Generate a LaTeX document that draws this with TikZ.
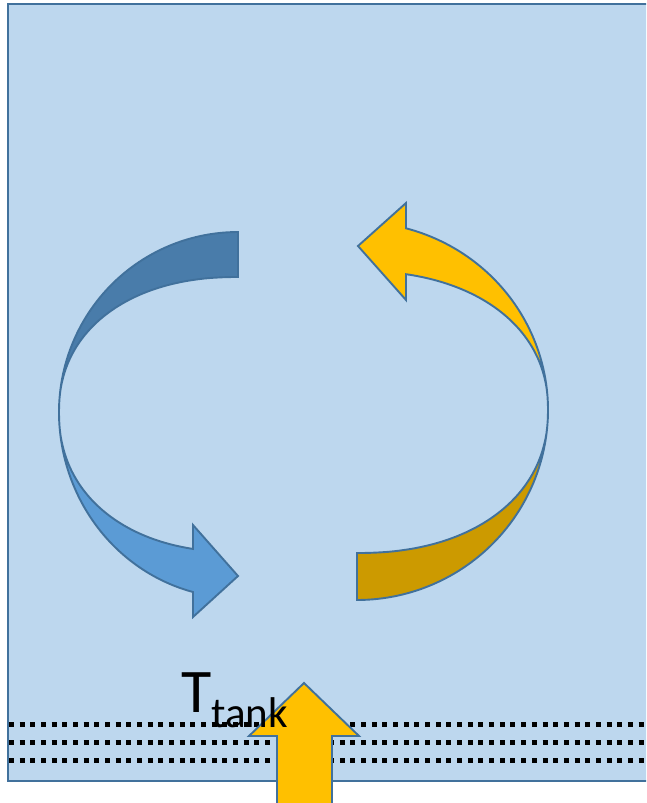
\documentclass[tikz,border=0pt]{standalone}
\usepackage{fontspec}
\newfontfamily\calib{Carlito}
\definecolor{tankfill}{HTML}{BDD7EE}
\definecolor{edgeblue}{HTML}{41719C}
\definecolor{bluelight}{HTML}{5B9BD5}
\definecolor{bluedark}{HTML}{497CAA}
\definecolor{gold}{HTML}{FFC000}
\definecolor{golddark}{HTML}{CC9A00}
\tikzset{
  tankbox/.style={fill=tankfill, draw=edgeblue, line width=2pt},
  shapeedge/.style={draw=edgeblue, line width=1.9pt, line join=miter},
  dotline/.style={black, line width=5pt, dash pattern=on 5pt off 5.67pt},
}
\newcommand{\sep}{0.909}
\begin{document}
\begin{tikzpicture}[x=1pt,y=-1pt]
\useasboundingbox (0,0) rectangle (646,803);
\begin{scope}
\clip (0,0) rectangle (646,803);
% tank
\draw[tankbox] (8,4) rectangle (670,781);
% dotted layers
\draw[dotline] (9,724) -- (670,724);
\draw[dotline] (9,742.3) -- (670,742.3);
\draw[dotline] (9,760.7) -- (670,760.7);
% left circular arrow: top (back side)
\path[shapeedge, fill=bluedark]
  plot[domain=270:180, samples=60] ({238+179*cos(\x)},{412+180*sin(\x)})
  -- plot[domain=180:270, samples=60]
     ({238-179*pow(abs(cos(\x))+0.000001,\sep)},{412-135*pow(abs(sin(\x))+0.000001,\sep)})
  -- cycle;
% left circular arrow: bottom with head
\path[shapeedge, fill=bluelight]
  plot[domain=180:104.56, samples=60] ({238+179*cos(\x)},{412+186*sin(\x)})
  -- (193,617) -- (238,576) -- (193,525)
  -- plot[domain=102.63:180, samples=60]
     ({238-179*pow(abs(cos(\x))+0.000001,\sep)},{412+140*pow(abs(sin(\x))+0.000001,\sep)})
  -- cycle;
% right circular arrow: top with head
\path[shapeedge, fill=gold]
  plot[domain=0:-75.14, samples=60] ({357+191*cos(\x)},{410+188*sin(\x)})
  -- (406,203) -- (358,246) -- (406,300)
  -- plot[domain=-77.06:0, samples=60]
     ({357+191*pow(abs(cos(\x))+0.000001,\sep)},{410-139*pow(abs(sin(\x))+0.000001,\sep)})
  -- cycle;
% right circular arrow: bottom (back side)
\path[shapeedge, fill=golddark]
  plot[domain=0:90, samples=60] ({357+191*cos(\x)},{410+190*sin(\x)})
  -- plot[domain=90:0, samples=60]
     ({357+191*pow(abs(cos(\x))+0.000001,\sep)},{410+143*pow(abs(sin(\x))+0.000001,\sep)})
  -- cycle;
% heat input arrow
\path[shapeedge, fill=gold]
  (277,806) -- (277,736) -- (249,736) -- (304,683) -- (359,736)
  -- (332,736) -- (332,806) -- cycle;
% label
\node[anchor=base west, inner sep=0pt] (ttank) at (181,712)
  {\calib\fontsize{62}{62}\selectfont T\raisebox{-15pt}{\fontsize{43}{43}\selectfont tank}};
\end{scope}
\end{tikzpicture}
\end{document}
